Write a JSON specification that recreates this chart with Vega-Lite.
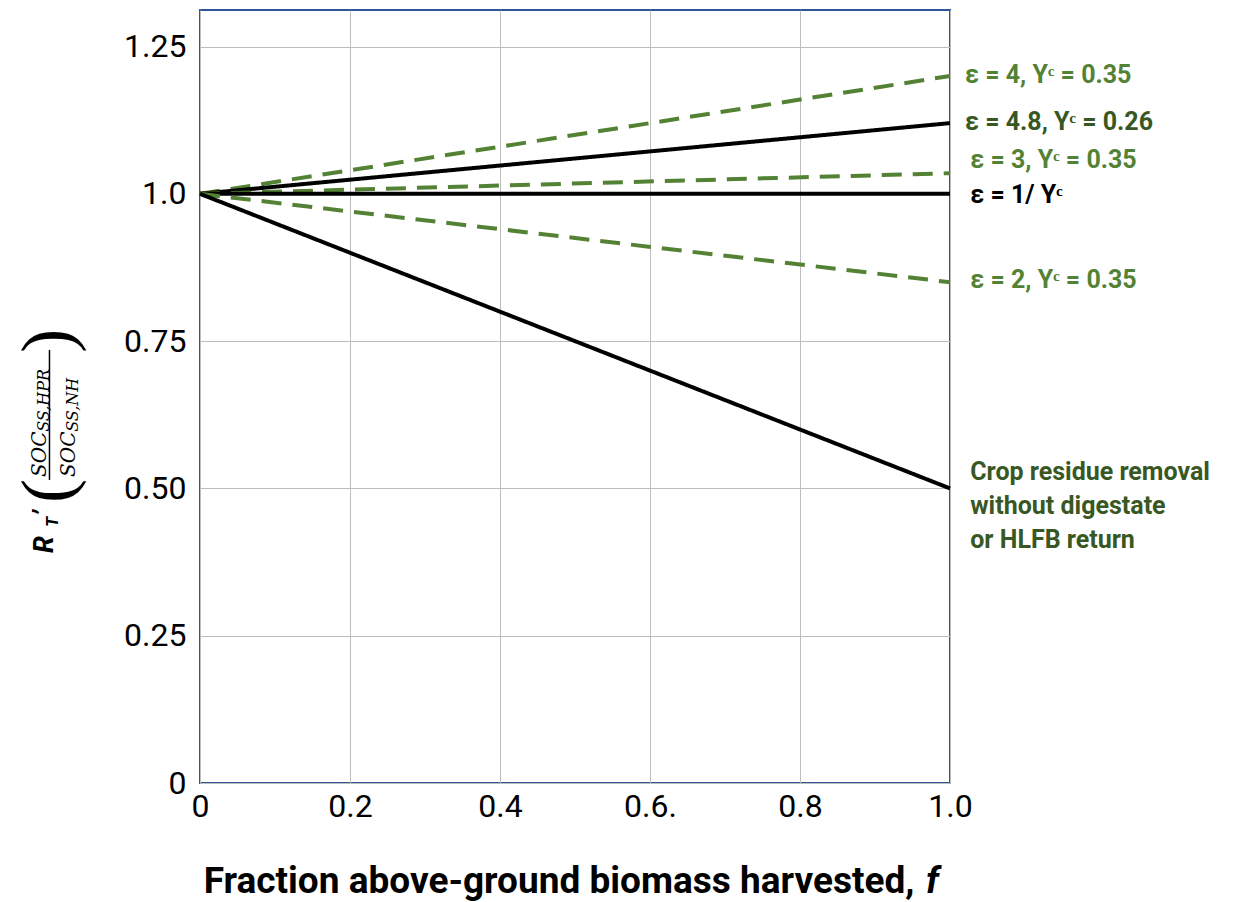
{
  "$schema": "https://vega.github.io/schema/vega-lite/v6.json",
  "width": 750,
  "height": 773,
  "autosize": {"type": "none"},
  "padding": {"left": 200, "top": 10, "right": 291, "bottom": 119},
  "background": "white",
  "config": {
    "view": {"stroke": "#2F5597", "strokeWidth": 2},
    "axis": {
      "domain": false,
      "ticks": false,
      "tickSize": 0,
      "labelFont": "Roboto",
      "labelFontSize": 32,
      "labelColor": "#000000",
      "gridColor": "#bdbdbd",
      "gridWidth": 1
    }
  },
  "datasets": {
    "lines": [
      {"series": "e4", "f": 0, "R": 1},
      {"series": "e4", "f": 1, "R": 1.2},
      {"series": "e48", "f": 0, "R": 1},
      {"series": "e48", "f": 1, "R": 1.12},
      {"series": "e3", "f": 0, "R": 1},
      {"series": "e3", "f": 1, "R": 1.035},
      {"series": "inv", "f": 0, "R": 1},
      {"series": "inv", "f": 1, "R": 1},
      {"series": "e2", "f": 0, "R": 1},
      {"series": "e2", "f": 1, "R": 0.85},
      {"series": "crop", "f": 0, "R": 1},
      {"series": "crop", "f": 1, "R": 0.5}
    ],
    "labels": [
      {"series": "e4", "f": 1.02, "R": 1.202, "text": "ε = 4, Yᶜ = 0.35"},
      {"series": "e48", "f": 1.02, "R": 1.122, "text": "ε = 4.8, Yᶜ = 0.26"},
      {"series": "e3", "f": 1.027, "R": 1.058, "text": "ε = 3, Yᶜ = 0.35"},
      {"series": "inv", "f": 1.027, "R": 0.998, "text": "ε = 1/ Yᶜ"},
      {"series": "e2", "f": 1.027, "R": 0.854, "text": "ε = 2, Yᶜ = 0.35"},
      {"series": "crop", "f": 1.027, "R": 0.528, "text": "Crop residue removal\nwithout digestate\nor HLFB return"}
    ],
    "xtitle": [
      {"kind": "main", "f": 0.4787, "R": -0.1868, "text": "Fraction above-ground biomass harvested,"},
      {"kind": "ital", "f": 0.968, "R": -0.1868, "text": "f"}
    ],
    "ytitle": [
      {"kind": "main", "f": -0.196, "R": 0.3905, "text": "R"},
      {"kind": "sub", "f": -0.190, "R": 0.4346, "text": "T"},
      {"kind": "main", "f": -0.196, "R": 0.4533, "text": "’"},
      {"kind": "paren", "f": -0.202, "R": 0.4957, "text": "("},
      {"kind": "paren", "f": -0.202, "R": 0.7504, "text": ")"},
      {"kind": "frac", "f": -0.2053, "R": 0.5195, "text": "SOC"},
      {"kind": "fracsub", "f": -0.202, "R": 0.596, "text": "SS,HPR"},
      {"kind": "frac", "f": -0.1667, "R": 0.5195, "text": "SOC"},
      {"kind": "fracsub", "f": -0.1633, "R": 0.596, "text": "SS,NH"}
    ],
    "bar": [
      {"f": -0.2007, "R": 0.5144, "R2": 0.735}
    ]
  },
  "encoding": {
    "x": {
      "field": "f",
      "type": "quantitative",
      "scale": {"domain": [0, 1], "nice": false, "zero": false},
      "axis": {
        "values": [0, 0.2, 0.4, 0.6, 0.8, 1],
        "labelExpr": "datum.value == 0 ? '0' : (datum.value == 0.6 ? '0.6.' : format(datum.value, '.1f'))",
        "labelPadding": 8,
        "labelFlush": false,
        "title": null
      }
    },
    "y": {
      "field": "R",
      "type": "quantitative",
      "scale": {"domain": [0, 1.312], "nice": false},
      "axis": {
        "values": [0, 0.25, 0.5, 0.75, 1, 1.25],
        "labelExpr": "datum.value == 0 ? '0' : (datum.value == 1 ? '1.0' : format(datum.value, '.2f'))",
        "labelPadding": 14,
        "labelFlush": false,
        "title": null
      }
    }
  },
  "layer": [
    {
      "data": {"name": "lines"},
      "mark": {"type": "line", "strokeWidth": 4, "clip": false},
      "encoding": {
        "detail": {"field": "series"},
        "color": {
          "field": "series",
          "type": "nominal",
          "legend": null,
          "scale": {
            "domain": ["e4", "e48", "e3", "inv", "e2", "crop"],
            "range": ["#548235", "#000000", "#548235", "#000000", "#548235", "#000000"]
          }
        },
        "strokeDash": {
          "field": "series",
          "type": "nominal",
          "legend": null,
          "scale": {
            "domain": ["e4", "e48", "e3", "inv", "e2", "crop"],
            "range": [[20, 11], [1, 0], [20, 11], [1, 0], [20, 11], [1, 0]]
          }
        }
      }
    },
    {
      "data": {"name": "labels"},
      "mark": {
        "type": "text",
        "align": "left",
        "baseline": "middle",
        "font": "Roboto",
        "fontSize": 25,
        "fontWeight": "bold",
        "lineBreak": "\n",
        "lineHeight": 34
      },
      "encoding": {
        "text": {"field": "text"},
        "color": {
          "condition": [
            {"test": "datum.series === 'e48' || datum.series === 'crop'", "value": "#385723"},
            {"test": "datum.series === 'inv'", "value": "#000000"}
          ],
          "value": "#548235"
        }
      }
    },
    {
      "data": {"name": "xtitle"},
      "transform": [{"filter": "datum.kind === 'main'"}],
      "mark": {"type": "text", "align": "center", "baseline": "alphabetic", "font": "Roboto", "fontSize": 37, "fontWeight": "bold", "color": "#000000"},
      "encoding": {"text": {"field": "text"}}
    },
    {
      "data": {"name": "xtitle"},
      "transform": [{"filter": "datum.kind === 'ital'"}],
      "mark": {"type": "text", "align": "left", "baseline": "alphabetic", "font": "Roboto", "fontSize": 37, "fontWeight": "bold", "fontStyle": "italic", "color": "#000000"},
      "encoding": {"text": {"field": "text"}}
    },
    {
      "data": {"name": "ytitle"},
      "transform": [{"filter": "datum.kind === 'main'"}],
      "mark": {"type": "text", "angle": 270, "align": "left", "baseline": "alphabetic", "font": "Roboto", "fontSize": 27, "fontWeight": "bold", "fontStyle": "italic", "color": "#000000"},
      "encoding": {"text": {"field": "text"}}
    },
    {
      "data": {"name": "ytitle"},
      "transform": [{"filter": "datum.kind === 'sub'"}],
      "mark": {"type": "text", "angle": 270, "align": "left", "baseline": "alphabetic", "font": "Roboto", "fontSize": 17, "fontWeight": "bold", "fontStyle": "italic", "color": "#000000"},
      "encoding": {"text": {"field": "text"}}
    },
    {
      "data": {"name": "ytitle"},
      "transform": [{"filter": "datum.kind === 'paren'"}],
      "mark": {"type": "text", "angle": 270, "align": "center", "baseline": "middle", "font": "Liberation Serif", "fontSize": 72, "color": "#000000"},
      "encoding": {"text": {"field": "text"}}
    },
    {
      "data": {"name": "ytitle"},
      "transform": [{"filter": "datum.kind === 'frac'"}],
      "mark": {"type": "text", "angle": 270, "align": "left", "baseline": "alphabetic", "font": "DejaVu Serif", "fontSize": 20, "fontStyle": "italic", "color": "#000000"},
      "encoding": {"text": {"field": "text"}}
    },
    {
      "data": {"name": "ytitle"},
      "transform": [{"filter": "datum.kind === 'fracsub'"}],
      "mark": {"type": "text", "angle": 270, "align": "left", "baseline": "alphabetic", "font": "DejaVu Serif", "fontSize": 16, "fontStyle": "italic", "color": "#000000"},
      "encoding": {"text": {"field": "text"}}
    },
    {
      "data": {"name": "bar"},
      "mark": {"type": "rule", "color": "#000000", "strokeWidth": 1.5},
      "encoding": {"y2": {"field": "R2"}}
    }
  ]
}
